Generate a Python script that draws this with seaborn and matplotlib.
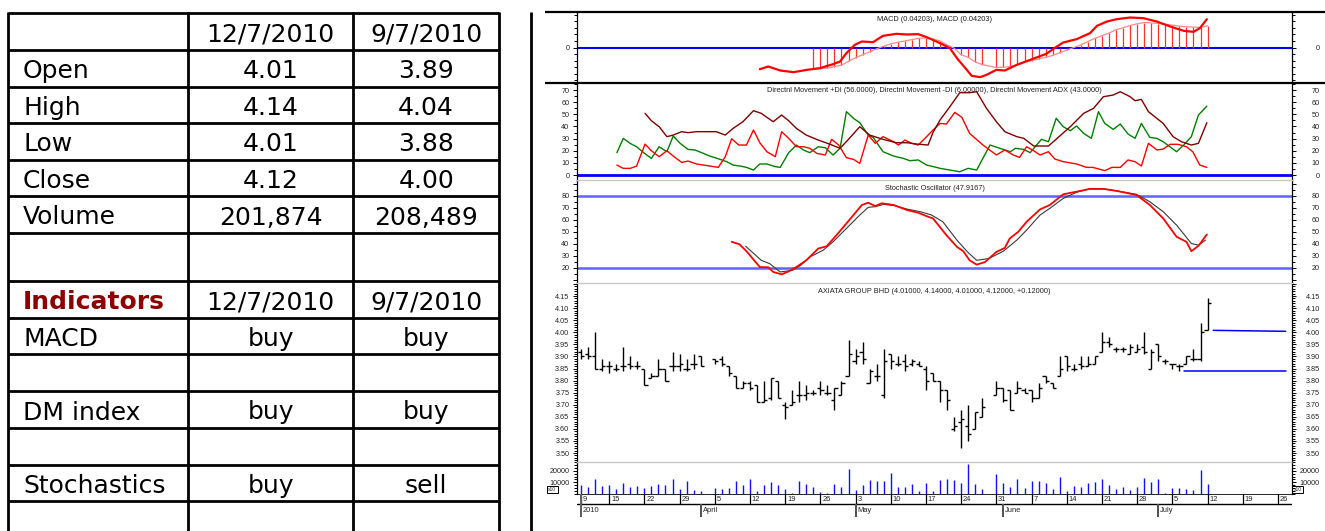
import numpy as np
import pandas as pd
import matplotlib
matplotlib.use("Agg")
import matplotlib.pyplot as plt
from matplotlib.ticker import MultipleLocator, FixedLocator, FuncFormatter
import seaborn as sns

sns.set_theme(style="white")
plt.rcParams["font.family"] = ["Liberation Sans", "DejaVu Sans"]

# ---------------- table data ----------------
table_dates = ["12/7/2010", "9/7/2010"]
price_labels = ["Open", "High", "Low", "Close", "Volume"]
price_jul12 = ["4.01", "4.14", "4.01", "4.12", "201,874"]
price_jul09 = ["3.89", "4.04", "3.88", "4.00", "208,489"]
ind_title = "Indicators"
ind_labels = ["MACD", "", "DM index", "", "Stochastics", ""]
ind_jul12 = ["buy", "", "buy", "", "buy", ""]
ind_jul09 = ["buy", "", "buy", "", "sell", ""]

# ---------------- chart data ----------------
start_date = "2010-03-09"
last_date = "2010-07-12"
holidays = ["2010-04-02", "2010-05-28"]

opens = [3.92, 3.91, 3.90, 3.85, 3.86, 3.85, 3.86, 3.87, 3.86, 3.85,
         3.81, 3.82, 3.85, 3.86, 3.86, 3.85, 3.87, 3.90, 3.89, 3.89,
         3.86, 3.82, 3.77, 3.79, 3.78, 3.71, 3.73, 3.80, 3.70, 3.70,
         3.74, 3.74, 3.75, 3.77, 3.75, 3.72, 3.74, 3.82, 3.88, 3.92,
         3.79, 3.82, 3.74, 3.91, 3.87, 3.88, 3.87, 3.87, 3.85, 3.83,
         3.80, 3.76, 3.60, 3.63, 3.61, 3.60, 3.65, 3.74, 3.77, 3.76,
         3.75, 3.76, 3.76, 3.73, 3.82, 3.79, 3.82, 3.90, 3.85, 3.87,
         3.86, 3.87, 3.92, 3.96, 3.93, 3.93, 3.91, 3.92, 3.94, 3.85,
         3.95, 3.88, 3.87, 3.86, 3.87, 3.89, 3.89, 4.01]
highs = [3.93, 3.94, 4.00, 3.89, 3.88, 3.87, 3.94, 3.90, 3.88, 3.85,
         3.83, 3.89, 3.85, 3.92, 3.91, 3.89, 3.91, 3.90, 3.89, 3.90,
         3.86, 3.82, 3.80, 3.80, 3.78, 3.80, 3.81, 3.80, 3.71, 3.76,
         3.80, 3.78, 3.76, 3.80, 3.78, 3.77, 3.80, 3.97, 3.93, 3.96,
         3.85, 3.87, 3.93, 3.91, 3.90, 3.91, 3.89, 3.88, 3.86, 3.83,
         3.80, 3.76, 3.65, 3.68, 3.70, 3.67, 3.73, 3.80, 3.77, 3.76,
         3.80, 3.77, 3.76, 3.79, 3.82, 3.79, 3.90, 3.90, 3.87, 3.90,
         3.90, 3.90, 4.00, 3.98, 3.94, 3.94, 3.95, 3.95, 4.00, 3.93,
         3.95, 3.89, 3.87, 3.87, 3.90, 3.93, 4.04, 4.14]
lows = [3.89, 3.89, 3.85, 3.84, 3.83, 3.84, 3.84, 3.85, 3.85, 3.78,
        3.81, 3.82, 3.80, 3.84, 3.84, 3.84, 3.85, 3.86, 3.87, 3.86,
        3.82, 3.77, 3.77, 3.76, 3.71, 3.71, 3.72, 3.73, 3.64, 3.70,
        3.71, 3.72, 3.74, 3.74, 3.74, 3.68, 3.74, 3.82, 3.87, 3.87,
        3.79, 3.80, 3.73, 3.85, 3.86, 3.84, 3.86, 3.86, 3.76, 3.80,
        3.71, 3.68, 3.59, 3.52, 3.55, 3.60, 3.65, 3.74, 3.71, 3.68,
        3.75, 3.75, 3.71, 3.73, 3.79, 3.77, 3.82, 3.84, 3.84, 3.85,
        3.86, 3.87, 3.92, 3.94, 3.92, 3.92, 3.91, 3.92, 3.91, 3.85,
        3.88, 3.87, 3.85, 3.84, 3.87, 3.88, 3.88, 4.01]
closes = [3.90, 3.90, 3.85, 3.86, 3.86, 3.85, 3.86, 3.86, 3.86, 3.78,
          3.82, 3.85, 3.80, 3.86, 3.87, 3.85, 3.87, 3.86, 3.88, 3.87,
          3.83, 3.77, 3.79, 3.77, 3.71, 3.72, 3.81, 3.73, 3.69, 3.71,
          3.74, 3.75, 3.75, 3.76, 3.75, 3.77, 3.79, 3.91, 3.90, 3.89,
          3.84, 3.82, 3.88, 3.88, 3.87, 3.86, 3.88, 3.86, 3.80, 3.80,
          3.76, 3.72, 3.61, 3.64, 3.58, 3.67, 3.69, 3.77, 3.72, 3.68,
          3.77, 3.75, 3.73, 3.77, 3.80, 3.77, 3.85, 3.86, 3.85, 3.86,
          3.87, 3.90, 3.96, 3.95, 3.93, 3.93, 3.94, 3.93, 3.92, 3.92,
          3.90, 3.88, 3.87, 3.86, 3.90, 3.89, 4.00, 4.12]
volume_x10 = [7800, 5800, 13000, 7000, 7500, 4700, 9200, 5800, 7000, 5300,
              7000, 8600, 7800, 13000, 4200, 11000, 3600, 2500, 5000, 4200,
              5300, 11000, 7800, 12800, 3000, 7500, 10500, 7800, 4700, 1100,
              11000, 8600, 6100, 1900, 1100, 8600, 6100, 21700, 3600, 7800,
              12000, 11000, 11000, 17800, 5800, 6100, 8600, 2500, 9700, 2800,
              12000, 13000, 12000, 9200, 26000, 8300, 3900, 17500, 9400, 6100,
              13300, 5000, 11000, 11000, 9700, 3900, 14400, 2500, 7200, 5800,
              9700, 10300, 12500, 7800, 4700, 5800, 3600, 6100, 13600, 10300,
              12500, 800, 5000, 5300, 4700, 3600, 20849, 8900]

# trend lines drawn on price panel (day offset, price)
resist_day = [89.8, 100.1]
resist_px = [4.008, 4.004]
support_day = [85.7, 100.1]
support_px = [3.84, 3.84]

# MACD (day offset from start, value)
macd_day = [25.4, 26.6, 28.3, 30.2, 32.1, 33.9, 35.8, 36.8, 37.7, 38.9, 39.9, 41.5, 42.0, 42.9,
            44.8, 46.3, 47.9, 49.1, 50.5, 51.0, 52.4, 53.4, 54.8, 55.5, 56.7, 57.6, 59.0, 60.2,
            61.9, 63.8, 66.1, 67.6, 68.5, 70.4, 72.3, 73.3, 74.7, 76.1, 78.0, 79.9, 81.8, 83.7,
            85.6, 87.0, 87.9, 88.9]
macd_val = [-0.033, -0.0289, -0.035, -0.0375, -0.034, -0.0314, -0.0254, -0.0213, -0.0086, 0.0041,
            0.0091, 0.0081, 0.0117, 0.0177, 0.0208, 0.0198, 0.0203, 0.0157, 0.0091, 0.0066,
            -0.001, -0.0162, -0.034, -0.0431, -0.0451, -0.0416, -0.034, -0.035, -0.0264, -0.0188,
            -0.0096, 0.0015, 0.0076, 0.0127, 0.0218, 0.033, 0.0395, 0.0431, 0.0456, 0.0446,
            0.0395, 0.0319, 0.0254, 0.0238, 0.0294, 0.0431]
hist_day = list(range(33, 58)) + list(range(59, 90))
hist_val = [-0.033, -0.032, -0.0314, -0.029, -0.027, -0.021, -0.0155, -0.011, -0.0065, -0.002,
            0.002, 0.0055, 0.008, 0.010, 0.012, 0.014, 0.0145, 0.013, 0.010, 0.004,
            -0.001, -0.011, -0.015, -0.022, -0.026,
            -0.0304, -0.030, -0.029, -0.026, -0.0225, -0.020, -0.0175, -0.015, -0.012, -0.008,
            -0.004, 0.000, 0.004, 0.009, 0.014, 0.018, 0.022, 0.027, 0.030, 0.0335,
            0.036, 0.038, 0.0375, 0.0365, 0.0355, 0.034, 0.0325, 0.0315, 0.031, 0.0305, 0.033]

# Directional movement
pdi_day = [5.1, 6.0, 7.0, 7.9, 8.9, 10.0, 11.1, 12.2, 13.1, 14.1, 15.2, 16.2, 17.4, 18.3, 19.5,
           20.7, 21.6, 22.6, 23.5, 24.5, 25.4, 26.4, 27.6, 28.3, 29.5, 30.6, 31.6, 32.5, 33.7,
           34.7, 35.8, 36.8, 37.7, 38.7, 39.6, 40.8, 41.5, 42.9, 44.4, 45.8, 46.7, 47.9, 49.1,
           50.5, 51.0, 52.4, 53.8, 55.0, 56.2, 58.1, 59.5, 61.0, 61.7, 62.9, 63.8, 65.4, 66.4,
           67.5, 68.5, 69.5, 70.4, 71.4, 72.5, 73.5, 74.4, 75.6, 76.6, 77.7, 78.7, 79.6, 80.8,
           81.8, 82.7, 84.6, 85.6, 86.7, 87.7, 88.9]
pdi_val = [18.4, 30.2, 26, 23.3, 18.4, 13.7, 23.3, 19.2, 32.1, 26, 21.1, 20.6, 17.8, 15.6, 13.4,
           11, 8.2, 7.4, 6.3, 4.1, 9.1, 9.1, 6.9, 6.3, 18.4, 24.7, 20.6, 18.4, 23.3, 22.5, 16.5,
           22, 52.2, 46.7, 43.1, 32.9, 31, 19.2, 15.6, 13.7, 11.8, 12.4, 8.2, 6.3, 5.5, 4.1, 2.7,
           5.5, 4.1, 24.7, 22, 19.2, 22, 21.1, 18.4, 29.4, 27.4, 46.7, 39.8, 36.5, 40.4, 34.3,
           30.2, 52.2, 42.5, 37.6, 42, 33.8, 30.2, 42.5, 31, 30.2, 27.4, 19.2, 24.7, 31.6, 49.4, 56.8]
mdi_day = [5.1, 6.0, 7.0, 7.9, 9.1, 10.0, 11.1, 12.2, 13.1, 14.3, 15.2, 16.4, 17.4, 18.3, 19.5,
           20.5, 21.4, 22.4, 23.5, 24.5, 25.4, 26.4, 27.6, 28.5, 29.5, 30.6, 31.6, 32.5, 33.5,
           34.7, 35.6, 36.6, 37.7, 38.7, 39.6, 40.8, 41.8, 42.9, 44.4, 45.1, 46.0, 47.0, 47.9,
           49.1, 50.0, 51.0, 51.9, 53.1, 54.1, 55.2, 57.1, 59.0, 60.2, 61.4, 62.3, 63.3, 64.3,
           65.2, 66.4, 67.3, 68.5, 70.4, 71.8, 72.7, 74.4, 75.4, 76.6, 77.7, 78.7, 79.6, 80.6,
           81.8, 82.7, 83.7, 84.8, 86.0, 86.9, 87.9, 88.9]
mdi_val = [8.2, 5.5, 5.5, 7.4, 25.5, 20, 15.1, 20, 15.6, 10.4, 11.5, 9.1, 8.2, 7.4, 6.3, 15.1,
           29.9, 24.7, 24.7, 37.1, 26.6, 19.2, 15.1, 35.7, 30.2, 23.3, 23.3, 22, 17.8, 16.5, 29.4,
           24.7, 14.3, 12.9, 9.6, 32.9, 26.1, 31.6, 27.4, 24.7, 28.8, 26.1, 24.7, 31.6, 37.1,
           42.5, 42, 51.6, 47.5, 34.3, 24.7, 16.5, 20.6, 16.5, 14.5, 23.3, 20, 16.5, 19.2, 13.2,
           11, 9.1, 6.3, 6.3, 3.6, 6.3, 6.3, 12.4, 11, 7.4, 26.1, 20.6, 21.4, 25.3, 25.3, 23.3,
           19.2, 8.2, 6.3]
adx_day = [9.1, 10.0, 11.1, 12.2, 13.1, 14.3, 15.2, 16.4, 17.4, 19.2, 20.5, 21.6, 23.0, 24.5,
           25.6, 27.3, 28.5, 29.5, 30.6, 32.0, 33.7, 35.3, 36.8, 37.9, 39.6, 41.0, 42.9, 44.8,
           46.3, 47.7, 49.3, 50.0, 51.0, 52.4, 53.8, 55.2, 56.2, 57.6, 59.0, 60.2, 61.9, 62.9,
           64.3, 66.4, 67.9, 69.5, 71.4, 72.8, 74.2, 75.6, 76.6, 78.0, 78.7, 79.6, 80.6, 82.7,
           84.1, 85.3, 86.7, 87.7, 88.9]
adx_val = [50.8, 44.7, 39.8, 31.6, 32.9, 35.7, 34.9, 35.7, 35.7, 35.7, 32.9, 38.4, 43.9, 53,
           50.8, 43.9, 49.4, 44.7, 38.4, 32.9, 28.8, 25.5, 22, 28.8, 39.8, 32.9, 29.4, 26.6,
           26.6, 25.5, 24.7, 35, 45.3, 56.3, 67.8, 67.8, 68.6, 54.9, 43.9, 35.7, 31.6, 30.2,
           23.9, 23.9, 31.6, 39.8, 50.8, 54.9, 64.5, 65.9, 68.6, 64.5, 61.2, 62.3, 52.2, 42.5,
           31.6, 27.4, 24.7, 26.1, 43.1]

# Stochastic oscillator
k_day = [21.4, 22.5, 23.5, 25.4, 26.6, 27.3, 28.5, 29.5, 30.6, 32.0, 33.7, 34.9, 36.3, 37.9,
         39.9, 40.8, 41.8, 42.7, 44.4, 46.3, 47.9, 49.3, 50.0, 51.9, 53.4, 54.3, 55.2, 56.2,
         57.4, 59.0, 60.2, 60.9, 62.1, 63.3, 65.2, 66.6, 68.5, 70.4, 72.3, 74.2, 76.1, 78.9,
         80.8, 82.7, 84.6, 86.0, 86.7, 87.7, 88.9]
k_val = [41.8, 39.8, 34, 20.8, 20.6, 16.7, 14.7, 17.2, 20.8, 26.4, 36.2, 38.1, 47.4, 58.5, 72.5,
         74.4, 71.6, 73.9, 72.5, 68.3, 66, 62.7, 61.3, 47.4, 37.6, 34, 26.4, 22.8, 25, 33.4, 36.7,
         44.6, 50.1, 58.5, 68.8, 72.5, 81.4, 83.6, 85.9, 85.9, 84.2, 80.8, 72.5, 61.3, 46, 41.8,
         34, 38.4, 47.9]
d_day = [23.4, 25.6, 26.8, 28.3, 30.0, 31.2, 32.5, 34.4, 35.8, 37.7, 39.6, 40.8, 41.8, 43.0,
         44.6, 46.3, 48.2, 49.8, 51.4, 53.4, 55.0, 56.2, 57.9, 60.0, 61.9, 63.3, 65.2, 66.6,
         68.5, 70.4, 72.3, 74.2, 76.1, 78.9, 80.8, 82.7, 84.6, 86.7, 87.7, 88.7]
d_val = [38.1, 26.4, 23.6, 16.7, 18, 22.2, 29.2, 34.8, 41.8, 52.9, 64.1, 70.5, 71.1, 73, 71.9,
         69.1, 66.9, 64.1, 58.5, 43.2, 32.8, 26.4, 27.8, 34, 43.2, 51.6, 64.1, 69.7, 78, 83.1,
         85.9, 85.9, 84.2, 81.4, 75.2, 66.9, 55.7, 40.4, 39, 43.2]

# date axis labels
week_dates = ["2010-03-09", "2010-03-15", "2010-03-22", "2010-03-29", "2010-04-05", "2010-04-12",
              "2010-04-19", "2010-04-26", "2010-05-03", "2010-05-10", "2010-05-17", "2010-05-24",
              "2010-05-31", "2010-06-07", "2010-06-14", "2010-06-21", "2010-06-28", "2010-07-05",
              "2010-07-12", "2010-07-19", "2010-07-26"]
month_names = ["2010", "April", "May", "June", "July"]
month_dates = ["2010-03-09", "2010-04-01", "2010-05-01", "2010-06-01", "2010-07-01"]

titles = ["MACD (0.04203), MACD (0.04203)",
          "Directnl Movement +DI (56.0000), Directnl Movement -DI (6.00000), Directnl Movement ADX (43.0000)",
          "Stochastic Oscillator (47.9167)",
          "AXIATA GROUP BHD (4.01000, 4.14000, 4.01000, 4.12000, +0.12000)"]

# ---------------- derived positions ----------------
def bday(dates):
    d = np.array(pd.to_datetime(dates).values.astype("datetime64[D]"))
    return np.busday_count(np.datetime64(start_date), d)

trade = pd.bdate_range(start_date, last_date)
trade = trade[~trade.isin(pd.to_datetime(holidays))]
bar_day = bday(trade)
px = pd.DataFrame({"day": bar_day, "open": opens, "high": highs, "low": lows,
                   "close": closes, "vol": volume_x10})

# ---------------- figure ----------------
W, H = 1325.0, 531.0
fig = plt.figure(figsize=(W / 100, H / 100), dpi=100)
fig.patch.set_facecolor("white")

def rect(x0, y0, x1, y1):
    return [x0 / W, 1 - y1 / H, (x1 - x0) / W, (y1 - y0) / H]

bg = fig.add_axes([0, 0, 1, 1])
bg.set_xlim(0, W)
bg.set_ylim(H, 0)
bg.axis("off")

# table grid
col_x = [7.6, 188.0, 353.0, 499.3]
row_y = [13, 50, 86.5, 123, 159.5, 196, 233, 281, 317.5, 354, 391, 428, 464.5, 501]
bg.hlines(row_y, col_x[0], col_x[-1], color="black", lw=2)
bg.vlines(col_x, row_y[0] - 1, H, color="black", lw=2)
bg.vlines(531, row_y[0] - 1, H, color="black", lw=2)

tfont = dict(family="DejaVu Sans", fontsize=18, color="black", va="baseline")

def row_text(r, label, v1, v2, label_kw=None):
    yb = (row_y[r] + row_y[r + 1]) / 2 + 10
    kw = dict(tfont)
    if label_kw:
        kw.update(label_kw)
    bg.text(23, yb, label, ha="left", **kw)
    bg.text((col_x[1] + col_x[2]) / 2, yb, v1, ha="center", **tfont)
    bg.text((col_x[2] + col_x[3]) / 2, yb, v2, ha="center", **tfont)

row_text(0, "", table_dates[0], table_dates[1])
for k in range(5):
    row_text(1 + k, price_labels[k], price_jul12[k], price_jul09[k])
row_text(7, ind_title, table_dates[0], table_dates[1],
         label_kw=dict(fontweight="bold", color="#8b0000"))
for k in range(5):
    row_text(8 + k, ind_labels[k], ind_jul12[k], ind_jul09[k])

# chart frame lines
bg.hlines([12, 83], 545, W, color="black", lw=1.6)

# ---------------- chart axes ----------------
L, R = 577, 1292
XMIN = (L - 581) / 7.04
XMAX = (R - 581) / 7.04

ax_macd = fig.add_axes(rect(L, 12, R, 83))
ax_dmi = fig.add_axes(rect(L, 83, R, 180))
ax_sto = fig.add_axes(rect(L, 180, R, 283))
ax_px = fig.add_axes(rect(L, 283, R, 462))
ax_vol = fig.add_axes(rect(L, 462, R, 494))
ax_date = fig.add_axes(rect(L, 494, R, 520))

TICK_FS = 5.2

def style(ax, ylim, major, minor, fmt, top_color=None):
    ax.set_xlim(XMIN, XMAX)
    ax.set_ylim(*ylim)
    ax.set_facecolor("none")
    ax.set_xticks([])
    ax.set_xlabel("")
    ax.set_ylabel("")
    ax.grid(False)
    ax.spines["bottom"].set_visible(False)
    if top_color:
        ax.spines["top"].set_color(top_color)
        ax.spines["top"].set_linewidth(1.0)
    else:
        ax.spines["top"].set_visible(False)
    for s in ["left", "right"]:
        ax.spines[s].set_color("black")
        ax.spines[s].set_linewidth(0.9)
    ax.yaxis.set_major_locator(major)
    ax.yaxis.set_minor_locator(minor)
    ax.yaxis.set_major_formatter(fmt)
    ax.tick_params(axis="y", which="both", left=True, right=False, labelleft=True,
                   labelright=False, direction="out", width=0.7, colors="black",
                   labelsize=TICK_FS, labelcolor="#222222", pad=2.5)
    ax.tick_params(axis="y", which="major", length=3)
    ax.tick_params(axis="y", which="minor", length=2)
    # right hand axis
    ax2 = ax.twinx()
    ax2.set_ylim(*ylim)
    ax2.set_xlim(XMIN, XMAX)
    ax2.grid(False)
    for s in ["top", "bottom", "left", "right"]:
        ax2.spines[s].set_visible(False)
    ax2.yaxis.set_major_locator(major)
    ax2.yaxis.set_minor_locator(minor)
    ax2.yaxis.set_major_formatter(fmt)
    ax2.tick_params(axis="y", which="both", left=False, right=True, labelleft=False,
                    labelright=True, direction="out", width=0.7, colors="black",
                    labelsize=TICK_FS, labelcolor="#222222", pad=17)
    ax2.tick_params(axis="y", which="major", length=3)
    ax2.tick_params(axis="y", which="minor", length=2)
    for t in ax2.yaxis.get_major_ticks():
        t.label2.set_horizontalalignment("right")
    return ax2

def title(ax, text, yfrac):
    ax.text(0.5, yfrac, text, transform=ax.transAxes, ha="center", va="center",
            fontsize=5.3, color="#222222")

# ---- MACD ----
style(ax_macd, (-0.054, 0.054), FixedLocator([0]), MultipleLocator(0.01),
      FuncFormatter(lambda v, p: "0"))
ax_macd.axhline(0, color="#0000ff", lw=1.5, zorder=1)
ax_macd.vlines(hist_day, 0, hist_val, color="#ff3030", lw=0.9, zorder=2)
sns.lineplot(x=hist_day, y=hist_val, ax=ax_macd, color="#ff8a8a", lw=0.9, zorder=3)
sns.lineplot(x=macd_day, y=macd_val, ax=ax_macd, color="#ff0000", lw=1.6, zorder=4)
ax_macd.set_xlim(XMIN, XMAX)
ax_macd.set_xticks([])
title(ax_macd, titles[0], 0.89)

# ---- DMI ----
style(ax_dmi, (-4.1, 75.8), MultipleLocator(10), MultipleLocator(5),
      FuncFormatter(lambda v, p: "%d" % round(v) if -0.5 < v < 70.5 else ""))
ax_dmi.axhline(0, color="#0000ff", lw=2.0, zorder=1)
sns.lineplot(x=pdi_day, y=pdi_val, ax=ax_dmi, color="#008000", lw=1.0)
sns.lineplot(x=mdi_day, y=mdi_val, ax=ax_dmi, color="#ff0000", lw=1.0)
sns.lineplot(x=adx_day, y=adx_val, ax=ax_dmi, color="#800000", lw=1.0)
ax_dmi.set_xlim(XMIN, XMAX)
ax_dmi.set_xticks([])
title(ax_dmi, titles[1], 0.918)

# ---- Stochastic ----
style(ax_sto, (7.5, 93.3), FixedLocator(list(range(10, 100, 10))), MultipleLocator(5),
      FuncFormatter(lambda v, p: "%d" % round(v) if 19 < v < 81 else ""), top_color="#c8c8c8")
for lvl in (20, 80):
    ax_sto.axhline(lvl, color="#6262ff", lw=1.8, zorder=1)
sns.lineplot(x=d_day, y=d_val, ax=ax_sto, color="#3a3a3a", lw=0.8)
sns.lineplot(x=k_day, y=k_val, ax=ax_sto, color="#ff0000", lw=1.3)
ax_sto.set_xlim(XMIN, XMAX)
ax_sto.set_xticks([])
title(ax_sto, titles[2], 0.922)

# ---- Price ----
style(ax_px, (3.463, 4.204), MultipleLocator(0.05), MultipleLocator(0.01),
      FuncFormatter(lambda v, p: "%.2f" % v if 3.49 < v < 4.16 else ""), top_color="#c8c8c8")
ax_px.vlines(px["day"], px["low"], px["high"], color="black", lw=1.0)
ax_px.hlines(px["open"], px["day"] - 0.45, px["day"], color="black", lw=1.0)
ax_px.hlines(px["close"], px["day"], px["day"] + 0.45, color="black", lw=1.0)
sns.lineplot(x=resist_day, y=resist_px, ax=ax_px, color="#0000ff", lw=1.1)
sns.lineplot(x=support_day, y=support_px, ax=ax_px, color="#0000ff", lw=1.1)
ax_px.set_xlim(XMIN, XMAX)
ax_px.set_xticks([])
title(ax_px, titles[3], 0.951)

# ---- Volume ----
style(ax_vol, (0, 27500), FixedLocator([10000, 20000]), MultipleLocator(2500),
      FuncFormatter(lambda v, p: "%d" % v), top_color="#c8c8c8")
ax_vol.vlines(px["day"], 0, px["vol"], color="#1010ff", lw=1.0)
ax_vol.set_xlim(XMIN, XMAX)
for xb in (547, 1292):
    bg.text(xb + 5.5, 489.5, "x10", ha="center", va="center", fontsize=3.6,
            bbox=dict(boxstyle="square,pad=0.25", fc="white", ec="black", lw=0.7))

# ---- Date axis ----
ax_date.set_xlim(XMIN, XMAX)
ax_date.set_ylim(1, 0)
ax_date.axis("off")
wk = bday(week_dates)
mo = bday(month_dates)
ax_date.axhline(0, color="black", lw=1.2)
ax_date.axhline(0.4, color="black", lw=1.0, xmin=0, xmax=1)
ax_date.vlines(wk, 0, 0.4, color="black", lw=0.9)
ax_date.vlines(mo, 0.4, 0.88, color="#505050", lw=1.4)
ax_date.vlines([mo[0]], 0, 0.88, color="#606060", lw=1.4)
for pos, d in zip(wk, pd.to_datetime(week_dates)):
    ax_date.annotate(str(d.day), (pos, 0.21), xytext=(1.3, 0), textcoords="offset points",
                     ha="left", va="center", fontsize=5.4, color="#222222")
for pos, name in zip(mo, month_names):
    ax_date.annotate(name, (pos, 0.64), xytext=(1.3, 0), textcoords="offset points",
                     ha="left", va="center", fontsize=5.4, color="#222222")

fig.savefig("out.png", dpi=100)
